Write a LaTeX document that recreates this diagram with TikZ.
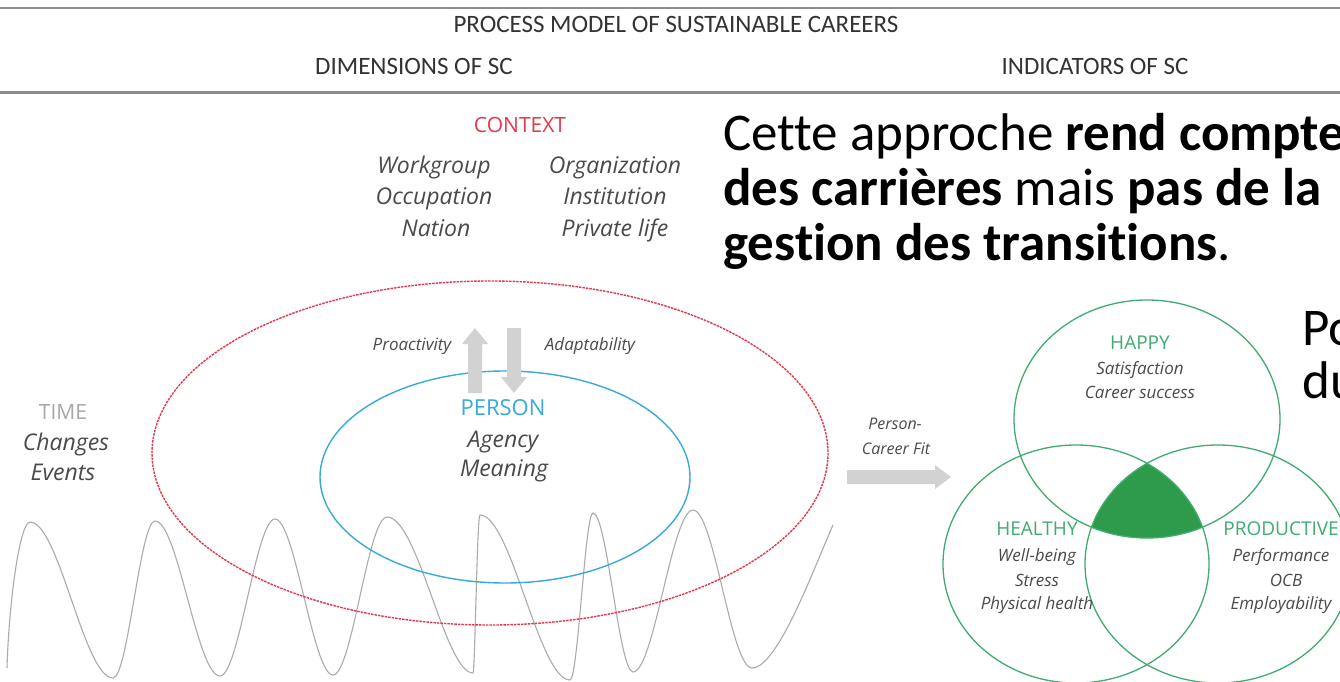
\documentclass[tikz,border=0pt]{standalone}
\usepackage{fontspec}
\setmainfont{Open Sans}
\newfontfamily\calib[Ligatures=CommonOff]{Carlito}
\usetikzlibrary{calc}
\definecolor{ctxred}{HTML}{E5384A}
\definecolor{perblue}{HTML}{39A9DA}
\definecolor{vgreen}{HTML}{41AC70}
\definecolor{vfill}{HTML}{2E9A4C}
\definecolor{txtgray}{HTML}{4A4A4A}
\definecolor{arrgray}{HTML}{D2D2D2}
\definecolor{wavegray}{HTML}{ABABAB}
\definecolor{timegray}{HTML}{A8A8A8}
\definecolor{rulegray}{HTML}{8C8C8C}
\begin{document}
\begin{tikzpicture}[x=1pt,y=-1pt,
  hdr/.style={font=\calib\fontsize{25}{28}\selectfont, text=black!80, inner sep=0, anchor=mid},
  big/.style={font=\calib\fontsize{53}{57}\selectfont, text=black, inner sep=0, anchor=base west},
  ital/.style={font=\fontsize{#1}{#1}\selectfont\itshape, text=txtgray, inner sep=0, anchor=mid},
  ital/.default=23,
  caps/.style={font=\fontsize{#1}{#1}\selectfont, inner sep=0, anchor=mid},
  ring/.style={draw=vgreen, line width=1.3pt},
  blockarrow/.style={fill=arrgray, draw=none}
]
\useasboundingbox (0,0) rectangle (1340,682);
\fill[white] (0,0) rectangle (1340,682);
\begin{scope}
\clip (0,0) rectangle (1340,682);

% header
\draw[rulegray, line width=2.5pt] (0,8) -- (1340,8);
\draw[rulegray, line width=3pt] (0,93) -- (1340,93);
\node[hdr] (title) at (676,30) {PROCESS MODEL OF SUSTAINABLE CAREERS};
\node[hdr] (dims) at (414,72) {DIMENSIONS OF SC};
\node[hdr] (inds) at (1095,72) {INDICATORS OF SC};

% wave
\draw[wavegray, line width=1.1pt]
  (7,668) .. controls (9,600) and (20,522) .. (30,522)
  .. controls (59,522) and (84,678) .. (113,678)
  .. controls (128,678) and (140,521) .. (155,521)
  .. controls (178,521) and (197,676) .. (220,676)
  .. controls (239,676) and (256,519) .. (275,519)
  .. controls (295,519) and (313,675) .. (333,675)
  .. controls (352,675) and (368,517) .. (387,517)
  .. controls (418,517) and (445,673) .. (473,673)
  .. controls (475,673) and (477,515) .. (480,515)
  .. controls (511,515) and (539,680) .. (570,680)
  .. controls (578,680) and (585,513) .. (593,513)
  .. controls (607,513) and (619,672) .. (633,672)
  .. controls (654,672) and (672,510) .. (693,510)
  .. controls (714,510) and (731,668) .. (752,668)
  .. controls (778,668) and (815,565) .. (833,525);

% context ellipse and person ellipse
\draw[ctxred, line width=1.4pt, dash pattern=on 2.5pt off 1pt] (490,453) ellipse [x radius=338, y radius=172];
\draw[perblue, line width=1.4pt] (505,477) ellipse [x radius=185, y radius=106];

% context texts
\node[caps=21, text=ctxred] (ctx) at (520,130) {CONTEXT};
\node[ital] (wg) at (434,171) {Workgroup};
\node[ital] (occ) at (434,202) {Occupation};
\node[ital] (nat) at (436,234) {Nation};
\node[ital] (org) at (615,171) {Organization};
\node[ital] (inst) at (615,202) {Institution};
\node[ital] (priv) at (615,234) {Private life};

% proactivity / adaptability arrows
\node[ital=17] (proact) at (412,348) {Proactivity};
\node[ital=17] (adapt) at (590,348) {Adaptability};
\coordinate (upbase) at (475,393);
\coordinate (uptip) at (475,328);
\coordinate (dnbase) at (514,328);
\coordinate (dntip) at (514,393);
\fill[blockarrow] ($(upbase)+(-7,0)$) -- ($(upbase)+(-7,-49)$) -- ($(upbase)+(-13,-49)$) -- (uptip) -- ($(upbase)+(13,-49)$) -- ($(upbase)+(7,-49)$) -- ($(upbase)+(7,0)$) -- cycle;
\fill[blockarrow] ($(dnbase)+(-7,0)$) -- ($(dnbase)+(-7,49)$) -- ($(dnbase)+(-13,49)$) -- (dntip) -- ($(dnbase)+(13,49)$) -- ($(dnbase)+(7,49)$) -- ($(dnbase)+(7,0)$) -- cycle;

% person
\node[caps=22, text=perblue] (person) at (503,413) {PERSON};
\node[ital] (agency) at (503,445) {Agency};
\node[ital] (meaning) at (504,474) {Meaning};

% time
\node[caps=21, text=timegray] (time) at (63,417) {TIME};
\node[ital] (changes) at (66,448) {Changes};
\node[ital] (events) at (63,478) {Events};

% person-career fit
\node[ital=16] (pc1) at (895,427) {Person-};
\node[ital=16] (pc2) at (896,452) {Career Fit};
\coordinate (fitS) at (847,477);
\coordinate (fitE) at (951,477);
\fill[blockarrow] ($(fitS)+(0,-7)$) -- ($(fitS)+(88,-7)$) -- ($(fitS)+(88,-12)$) -- (fitE) -- ($(fitS)+(88,12)$) -- ($(fitS)+(88,7)$) -- ($(fitS)+(0,7)$) -- cycle;

% venn
\coordinate (cH) at (1147,419);
\coordinate (cL) at (1076,564);
\coordinate (cR) at (1218,564);
\begin{scope}
  \clip (cH) ellipse [x radius=133, y radius=119];
  \clip (cL) ellipse [x radius=133, y radius=119];
  \fill[vfill] (cR) ellipse [x radius=133, y radius=119];
\end{scope}
\draw[ring] (cH) ellipse [x radius=133, y radius=119];
\draw[ring] (cL) ellipse [x radius=133, y radius=119];
\draw[ring] (cR) ellipse [x radius=133, y radius=119];

\node[caps=19, text=vgreen] (happy) at (1140,347) {HAPPY};
\node[ital=17] (sat) at (1140,372) {Satisfaction};
\node[ital=17] (cs) at (1140,396) {Career success};
\node[caps=19, text=vgreen] (healthy) at (1037,533) {HEALTHY};
\node[ital=17] (wb) at (1037,559) {Well-being};
\node[ital=17] (str) at (1037,584) {Stress};
\node[ital=17] (ph) at (1037,607) {Physical health};
\node[caps=19, text=vgreen] (prod) at (1281,533) {PRODUCTIVE};
\node[ital=17] (perf) at (1281,559) {Performance};
\node[ital=17] (ocb) at (1286,584) {OCB};
\node[ital=17] (emp) at (1281,607) {Employability};

% overlay text
\node[big] (l1) at (723,150) {Cette approche \textbf{rend compte}};
\node[big] (l2) at (723,205) {\textbf{des carrières} mais \textbf{pas de la}};
\node[big] (l3) at (723,260) {\textbf{gestion des transitions}.};
\node[big] (l4) at (1302,345) {Po};
\node[big] (l5) at (1302,398) {du};
\end{scope}
\end{tikzpicture}
\end{document}
